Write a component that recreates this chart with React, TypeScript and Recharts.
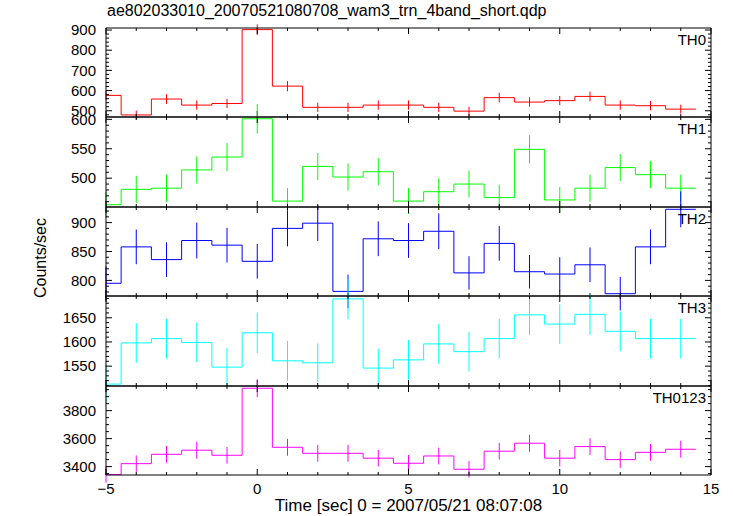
import React from 'react';
import { ComposedChart, Line, Scatter, ErrorBar, XAxis, YAxis } from 'recharts';

// bin centres (sec), each bin is 1 s wide
const times = [-5, -4, -3, -2, -1, 0, 1, 2, 3, 4, 5, 6, 7, 8, 9, 10, 11, 12, 13, 14];
const xTicks = [-5, 0, 5, 10, 15];

const th0 = [576, 479, 558, 528, 536, 902, 622, 517, 517, 528, 528, 517, 498, 565, 543, 550, 571, 528, 525, 508];
const th0Err = [24, 22, 24, 23, 23, 26, 25, 23, 23, 23, 23, 23, 22, 24, 23, 23, 24, 23, 23, 22];
const th0Ticks = [500, 600, 700, 800, 900];

const th1 = [455, 481, 483, 514, 536, 601, 461, 520, 502, 511, 461, 477, 490, 467, 549, 463, 483, 518, 506, 483];
const th1Err = [22, 23, 23, 23, 24, 25, 22, 23, 23, 23, 22, 23, 23, 22, 24, 22, 23, 23, 23, 23];
const th1Ticks = [500, 550, 600];

const th2 = [795, 858, 836, 869, 861, 833, 890, 899, 781, 872, 869, 885, 813, 864, 815, 811, 827, 777, 858, 923];
const th2Err = [29, 30, 30, 31, 30, 30, 31, 31, 29, 30, 30, 31, 29, 30, 29, 29, 30, 29, 30, 31];
const th2Ticks = [800, 850, 900];

const th3 = [1513, 1598, 1607, 1599, 1548, 1619, 1561, 1557, 1689, 1546, 1563, 1596, 1580, 1607, 1656, 1637, 1657, 1622, 1607, 1607];
const th3Err = [40, 41, 41, 41, 40, 42, 41, 40, 42, 40, 41, 41, 41, 41, 42, 41, 42, 41, 41, 41];
const th3Ticks = [1550, 1600, 1650];

const th0123 = [3343, 3421, 3488, 3517, 3481, 3960, 3538, 3495, 3495, 3460, 3424, 3476, 3381, 3510, 3567, 3460, 3543, 3450, 3502, 3524];
const th0123Err = [58, 59, 60, 60, 60, 64, 60, 60, 60, 59, 59, 60, 58, 60, 61, 59, 60, 59, 60, 60];
const th0123Ticks = [3400, 3600, 3800];

const FONT = '"Liberation Sans", Arial, Helvetica, sans-serif';
const PLOT_LEFT = 106;
const PLOT_RIGHT = 711;
const PANEL_EDGES = [28, 117, 207, 296, 386, 475];
const PAD = 20;

const panels = [
  { name: 'TH0', color: '#ff0000', values: th0, errors: th0Err, domain: [469, 910], ticks: th0Ticks, minor: 20 },
  { name: 'TH1', color: '#00ff00', values: th1, errors: th1Err, domain: [451, 604], ticks: th1Ticks, minor: 10 },
  { name: 'TH2', color: '#0000ff', values: th2, errors: th2Err, domain: [773, 927], ticks: th2Ticks, minor: 10 },
  { name: 'TH3', color: '#00ffff', values: th3, errors: th3Err, domain: [1509, 1695], ticks: th3Ticks, minor: 10 },
  { name: 'TH0123', color: '#ff00ff', values: th0123, errors: th0123Err, domain: [3340, 3976], ticks: th0123Ticks, minor: 50 },
];

const fmt = (v: number) => (v < 0 ? '\u2212' + Math.abs(v) : String(v));

const minorTicks = (lo: number, hi: number, step: number) => {
  const out: number[] = [];
  for (let v = Math.ceil(lo / step) * step; v <= hi; v += step) out.push(v);
  return out;
};

const xMinor = minorTicks(-5, 15, 1);

const makeXTick = (side: 'top' | 'bottom', labels: boolean) => (p: any) => {
  const v = p.payload.value;
  const major = xTicks.includes(v);
  const len = major ? 6 : 3;
  const dir = side === 'top' ? 1 : -1;
  return (
    <g>
      <line x1={p.x} y1={p.y} x2={p.x} y2={p.y + dir * len} stroke="#000" strokeWidth={1} />
      {labels && major && (
        <text x={p.x} y={p.y + 19} textAnchor="middle" fontSize={15} fontFamily={FONT} fill="#000">
          {fmt(v)}
        </text>
      )}
    </g>
  );
};

const makeYTick = (side: 'left' | 'right', majors: number[]) => (p: any) => {
  const v = p.payload.value;
  const major = majors.includes(v);
  const len = major ? 6 : 3;
  const dir = side === 'left' ? 1 : -1;
  return (
    <g>
      <line x1={p.x} y1={p.y} x2={p.x + dir * len} y2={p.y} stroke="#000" strokeWidth={1} />
      {side === 'left' && major && (
        <text x={p.x - 10} y={p.y} dy="0.35em" textAnchor="end" fontSize={15} fontFamily={FONT} fill="#000">
          {v}
        </text>
      )}
    </g>
  );
};

function Panel({ idx }: { idx: number }) {
  const cfg = panels[idx];
  const last = idx === panels.length - 1;
  const top = PANEL_EDGES[idx];
  const h = PANEL_EDGES[idx + 1] - top;
  const padBottom = last ? 40 : PAD;
  const width = 733;
  const height = PAD + h + padBottom;

  const steps = times.map((t, i) => ({ x: i === 0 ? t : t - 0.5, y: cfg.values[i] }));
  steps.push({ x: times[times.length - 1] + 0.5, y: cfg.values[cfg.values.length - 1] });
  const points = times.map((t, i) => ({ x: t, y: cfg.values[i], err: cfg.errors[i] }));
  const yMinor = minorTicks(cfg.domain[0], cfg.domain[1], cfg.minor);

  const xCommon = {
    type: 'number' as const,
    dataKey: 'x',
    domain: [-5, 15],
    ticks: xMinor,
    interval: 0,
    allowDataOverflow: true,
    tickSize: 0,
    tickMargin: 0,
    tickLine: false,
    axisLine: { stroke: '#000', strokeWidth: 1 },
  };
  const yCommon = {
    type: 'number' as const,
    dataKey: 'y',
    domain: cfg.domain,
    ticks: yMinor,
    interval: 0,
    allowDataOverflow: true,
    tickSize: 0,
    tickMargin: 0,
    tickLine: false,
    width: 1,
    axisLine: { stroke: '#000', strokeWidth: 1 },
  };

  return (
    <div style={{ position: 'absolute', left: 0, top: top - PAD, width, height }}>
      <ComposedChart
        width={width}
        height={height}
        margin={{ top: PAD - 1, bottom: padBottom - 1, left: PLOT_LEFT - 1, right: width - PLOT_RIGHT - 1 }}
      >
        <XAxis {...xCommon} xAxisId="b" orientation="bottom" height={1} tick={makeXTick('bottom', last)} />
        <XAxis {...xCommon} xAxisId="t" orientation="top" height={1} tick={makeXTick('top', false)} />
        <YAxis {...yCommon} yAxisId="l" orientation="left" tick={makeYTick('left', cfg.ticks)} />
        <YAxis {...yCommon} yAxisId="r" orientation="right" tick={makeYTick('right', cfg.ticks)} />
        <Line
          data={steps}
          dataKey="y"
          xAxisId="b"
          yAxisId="l"
          type="stepAfter"
          stroke={cfg.color}
          strokeWidth={1}
          dot={false}
          activeDot={false}
          isAnimationActive={false}
        />
        <Scatter
          data={points}
          dataKey="y"
          xAxisId="b"
          yAxisId="l"
          shape={() => <g />}
          isAnimationActive={false}
        >
          <ErrorBar dataKey="err" direction="y" width={0} stroke={cfg.color} strokeWidth={1} isAnimationActive={false} />
        </Scatter>
      </ComposedChart>
      <div
        style={{
          position: 'absolute',
          right: width - PLOT_RIGHT + 5,
          top: PAD + 3,
          fontFamily: FONT,
          fontSize: 15,
          lineHeight: '18px',
          color: '#000',
        }}
      >
        {cfg.name}
      </div>
    </div>
  );
}

export default function App() {
  return (
    <div style={{ position: 'absolute', left: 0, top: 0, width: 733, height: 516, background: '#fff', overflow: 'hidden' }}>
      <div style={{ position: 'absolute', left: 107, top: 2, fontFamily: FONT, fontSize: 16, lineHeight: '18px' }}>
        ae802033010_20070521080708_wam3_trn_4band_short.qdp
      </div>
      {panels.map((_, i) => (
        <Panel key={i} idx={i} />
      ))}
      <div
        style={{
          position: 'absolute',
          left: 41 - 60,
          top: 258 - 9,
          width: 120,
          height: 18,
          textAlign: 'center',
          transform: 'rotate(-90deg)',
          transformOrigin: '60px 9px',
          fontFamily: FONT,
          fontSize: 16,
          lineHeight: '18px',
        }}
      >
        Counts/sec
      </div>
      <div
        style={{
          position: 'absolute',
          left: PLOT_LEFT - 40,
          width: PLOT_RIGHT - PLOT_LEFT + 80,
          top: 497,
          textAlign: 'center',
          fontFamily: FONT,
          fontSize: 17,
          lineHeight: '18px',
        }}
      >
        Time [sec] 0 = 2007/05/21 08:07:08
      </div>
    </div>
  );
}
